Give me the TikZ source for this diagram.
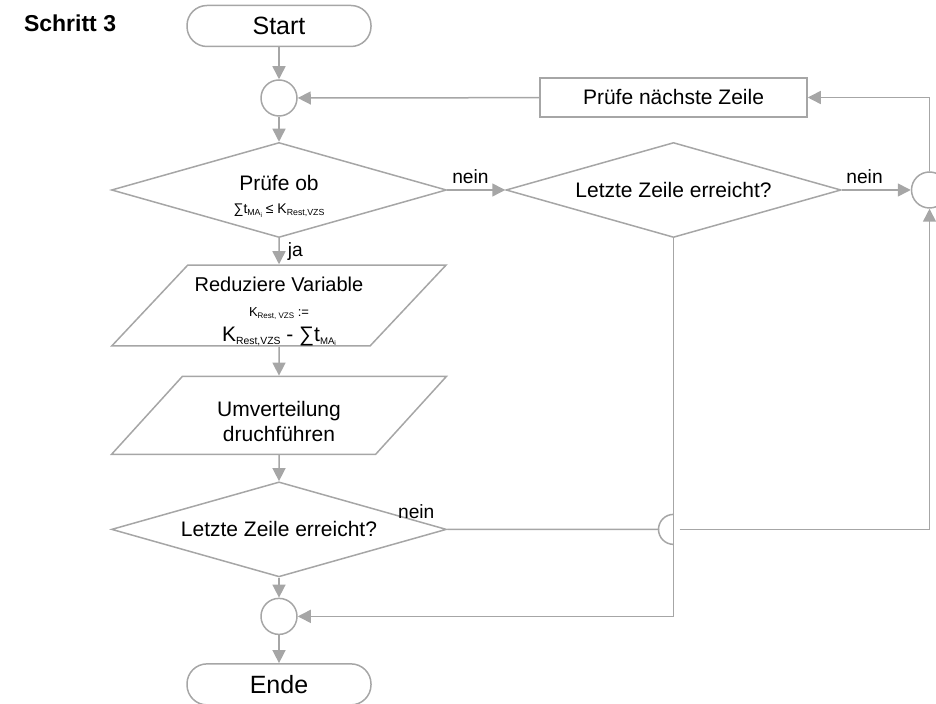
\documentclass[tikz,border=0pt]{standalone}
\usepackage{fontspec}
\setmainfont{Liberation Sans}
\usepackage{xcolor}
\usetikzlibrary{arrows.meta,positioning,shapes.geometric,calc}
\definecolor{linegray}{RGB}{166,166,166}
\newcommand{\lowtxt}[2]{\raisebox{-0.3ex}{\fontsize{#1}{#1}\selectfont #2}}

\begin{document}
\begin{tikzpicture}[
      x=0.5pt, y=0.5pt,
      node distance=14pt,
      term/.style={draw=linegray, line width=0.75pt, rounded corners=10pt, minimum width=92pt, minimum height=20.5pt, font=\fontsize{12.5}{14}\selectfont},
      jn/.style={draw=linegray, line width=0.75pt, circle, minimum size=18pt, inner sep=0pt},
      box/.style={draw=linegray, line width=0.75pt, minimum width=133.5pt, minimum height=19.5pt, font=\fontsize{10.5}{12}\selectfont},
      decision/.style={draw=linegray, line width=0.75pt, diamond, aspect=3.5, minimum width=167.5pt, minimum height=47.5pt, inner sep=0pt, align=center, font=\fontsize{10.5}{12}\selectfont},
      io/.style={draw=linegray, line width=0.75pt, trapezium, trapezium left angle=49, trapezium right angle=131, trapezium stretches=true, minimum width=167.5pt, minimum height=39pt, inner sep=0pt, align=center, font=\fontsize{10.5}{12.5}\selectfont},
      line/.style={draw=linegray, line width=0.75pt},
      arr/.style={line, -{Triangle[length=6.5pt, width=6.5pt]}},
      lbl/.style={font=\fontsize{9.6}{11}\selectfont, inner sep=3pt}
    ]
      \useasboundingbox (0,0) rectangle (936,-704);
      \node[font=\bfseries\fontsize{11.5}{13}\selectfont, anchor=base west] (title) at (17,-32) {Schritt 3};

      \node[term] (start) at (279,-26) {Start};
      \node[jn, below=16pt of start] (c1) {};
      \node[decision, below=12.5pt of c1] (d1) {\rule{0pt}{14pt}Prüfe ob\\[-0.5pt]{\fontsize{7}{8}\selectfont ∑t\lowtxt{4.4}{MA\lowtxt{3.2}{i}} ≤ K\lowtxt{4.4}{Rest,VZS}}};
      \node[io, below=13pt of d1] (p1) {{\fontsize{10}{12}\selectfont\rule{0pt}{13pt}Reduziere Variable}\\{\fontsize{6.5}{8}\selectfont K\lowtxt{4}{Rest, VZS} :=}\\{K\lowtxt{5.2}{Rest,VZS} - ∑t\lowtxt{4.8}{MA\lowtxt{3.4}{i}}}};
      \node[io, below=14.5pt of p1] (p2) {\rule{0pt}{13.5pt}Umverteilung\\druchführen};
      \node[decision, below=13pt of p2] (d3) {Letzte Zeile erreicht?};
      \node[jn, below=10pt of d3] (c2) {};
      \node[term, below=14pt of c2] (ende) {Ende};

      \node[decision, right=29pt of d1] (d2) {Letzte Zeile erreicht?};
      \node[box, above=12pt of d2] (next) {Prüfe nächste Zeile};
      \node[jn, right=34.5pt of d2] (cr) {};

      \draw[arr] (start) -- (c1);
      \draw[arr] (c1) -- (d1);
      \draw[arr] (d1) -- node[lbl, right, xshift=1pt] {ja} (p1);
      \draw[arr] (p1) -- (p2);
      \draw[arr] (p2) -- (d3);
      \draw[arr] (d3) -- (c2);
      \draw[arr] (c2) -- (ende);
      \draw[arr] (d1) -- node[lbl, above, pos=0.4] {nein} (d2);
      \draw[arr] (d2) -- node[lbl, above, pos=0.33] {nein} (cr);
      \draw[arr] (cr) |- (next);
      \draw[arr] (next) -- (c1);
      \draw[arr] (d2) |- (c2);

      \coordinate (hop) at (d2.south |- d3.east);
      \draw[line] (d3.east) -- node[lbl, above, pos=0, xshift=-15.5pt, yshift=2pt] {nein} ($(hop)+(-15,0)$) arc[start angle=180, end angle=90, radius=7.5pt];
      \draw[line] ($(hop)+(-15,0)$) arc[start angle=180, end angle=270, radius=7.5pt];
      \draw[arr] ($(hop)+(6,0)$) -| (cr);
    \end{tikzpicture}
\end{document}
